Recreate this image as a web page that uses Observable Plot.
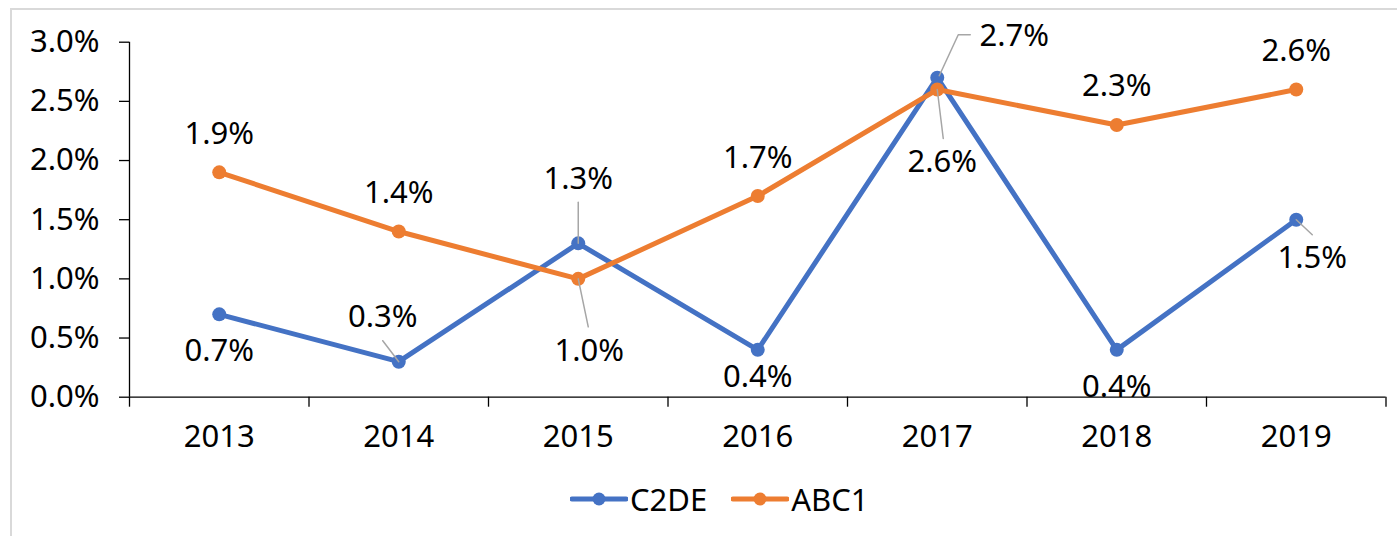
<!DOCTYPE html>
<html>
<head>
<meta charset="utf-8">
<script src="https://cdn.jsdelivr.net/npm/d3@7"></script>
<script src="https://cdn.jsdelivr.net/npm/@observablehq/plot@0.6"></script>
<style>
  html, body { margin: 0; padding: 0; background: #fff; overflow: hidden; width: 1397px; height: 536px; }
  #frame { position: absolute; left: 10px; top: 8px; width: 1500px; height: 700px; border: 2px solid #d9d9d9; box-sizing: border-box; z-index: 0; }
  #chart { position: absolute; left: 0; top: 0; z-index: 1; }
  #legend { position: absolute; left: 570px; top: 470px; height: 58px; display: flex; align-items: center; z-index: 1;
            font-family: "Noto Sans", sans-serif; font-size: 31px; color: #000; }
  .item { display: flex; align-items: center; }
  .item svg { display: block; }
</style>
</head>
<body>
<div id="frame"></div>
<div id="chart"></div>
<div id="legend"></div>
<script>
// ---- data ----
const years = ["2013", "2014", "2015", "2016", "2017", "2018", "2019"];
const c2de = [0.7, 0.3, 1.3, 0.4, 2.7, 0.4, 1.5];
const abc1 = [1.9, 1.4, 1.0, 1.7, 2.6, 2.3, 2.6];
const yTicks = [0, 0.5, 1.0, 1.5, 2.0, 2.5, 3.0];
const seriesNames = ["C2DE", "ABC1"];

// ---- styles / layout ----
const colors = {C2DE: "#4472C4", ABC1: "#ED7D31"};
const W = 1397, H = 470;
const mL = 129, mR = 11.5, mT = 41.7, mB = 73.3;
const xStep = (W - mL - mR) / years.length;
const yUnit = (H - mT - mB) / 3;
const font = "Noto Sans, sans-serif";
const fs = 31;

// label offsets in pixels relative to each point (Excel's placement)
const labelOffsets = {
  C2DE: [[0, 37], [-16, -44.5], [0, -64], [0, 27], [77, -42], [0, 37], [16, 38]],
  ABC1: [[0, -38], [0, -38], [11, 72.6], [0, -38], [5, 72.5], [0, -39], [0, -38]]
};
const leaderPaths = {
  C2DE: [null, [[0, 0], [-16, -21]], [[0, 0], [0, -41]], null, [[2, -2], [21, -43], [33, -43]], null, [[0, 0], [16, 15]]],
  ABC1: [null, null, [[0, 0], [10, 48]], null, [[0, 0], [6, 49]], null, null]
};

const table = [
  ...c2de.map((v, i) => ({series: "C2DE", i, v})),
  ...abc1.map((v, i) => ({series: "ABC1", i, v}))
];

const leaders = [];
for (const d of table) {
  const path = leaderPaths[d.series][d.i];
  if (!path) continue;
  path.forEach(([px, py], k) => leaders.push({id: d.series + d.i, k, x: d.i + px / xStep, y: d.v - py / yUnit}));
}

const marks = [
  Plot.ruleX([-0.5], {y1: 0, y2: 3, stroke: "#000", strokeWidth: 1.3}),
  Plot.axisY({ticks: yTicks, tickSize: 10, tickPadding: 20, tickFormat: v => v.toFixed(1) + "%", label: null, stroke: "#000", strokeWidth: 1.3}),
  Plot.axisX({ticks: d3.range(-0.5, 7, 1), tickSize: 10, tickFormat: () => "", label: null, stroke: "#000", strokeWidth: 1.3}),
  Plot.axisX({ticks: d3.range(7), tickSize: 0, tickPadding: 28, tickFormat: i => years[i], label: null}),
  Plot.ruleY([0], {stroke: "#000", strokeWidth: 1.3})
];
for (const s of seriesNames) {
  const data = table.filter(d => d.series === s);
  marks.push(Plot.line(data, {x: "i", y: "v", stroke: colors[s], strokeWidth: 5, strokeLinejoin: "round", strokeLinecap: "round"}));
  marks.push(Plot.dot(data, {x: "i", y: "v", r: 7, fill: colors[s], stroke: "none"}));
}
marks.push(Plot.line(leaders, {x: "x", y: "y", z: "id", stroke: "#A6A6A6", strokeWidth: 1.5}));
for (const d of table) {
  const [dx, dy] = labelOffsets[d.series][d.i];
  marks.push(Plot.text([d], {x: "i", y: "v", text: d => d.v.toFixed(1) + "%", dx, dy, fill: "#000", fontSize: fs}));
}

const chart = Plot.plot({
  width: W, height: H,
  marginLeft: mL, marginRight: mR, marginTop: mT, marginBottom: mB,
  style: {fontFamily: font, fontSize: fs + "px", color: "#000", background: "transparent", overflow: "visible"},
  x: {type: "linear", domain: [-0.5, 6.5]},
  y: {domain: [0, 3]},
  marks
});
document.getElementById("chart").appendChild(chart);

// legend
const legend = document.getElementById("legend");
seriesNames.forEach((s, k) => {
  const item = document.createElement("div");
  item.className = "item";
  item.style.marginRight = k === 0 ? "24px" : "0";
  item.innerHTML = `<svg width="58" height="16"><line x1="2" y1="8" x2="56" y2="8" stroke="${colors[s]}" stroke-width="5" stroke-linecap="round"/><circle cx="29" cy="8" r="6.5" fill="${colors[s]}"/></svg><span style="margin-left:2px">${s}</span>`;
  legend.appendChild(item);
});
</script>
</body>
</html>
